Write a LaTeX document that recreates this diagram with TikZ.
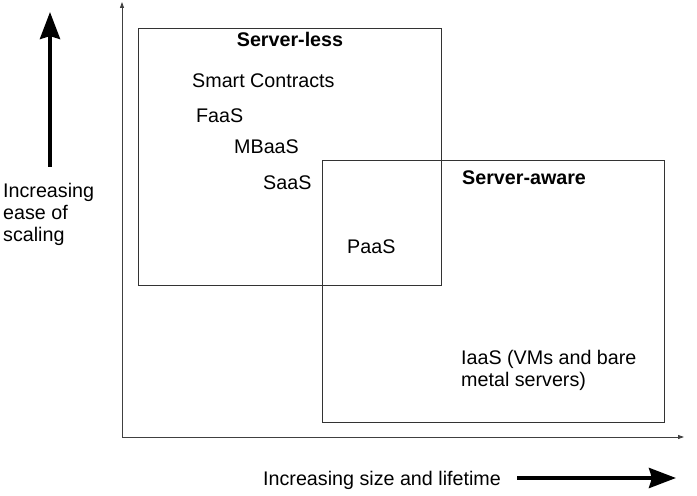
\documentclass[tikz,border=0pt]{standalone}
\usepackage{fontspec}
\setmainfont{Liberation Sans}
\usetikzlibrary{arrows.meta,positioning}

\begin{document}
\begin{tikzpicture}[x=1bp,y=-1bp,
  lbl/.style={anchor=base west,inner sep=0pt,align=left,font=\fontsize{19.7bp}{22bp}\selectfont},
  hdr/.style={lbl,font=\fontsize{19.7bp}{22bp}\selectfont\bfseries},
  axis/.style={line width=0.8bp,black!75,-{Triangle[length=6bp,width=4bp]}},
  bigarrow/.style={line width=4bp,-{Stealth[length=27bp,width=20bp,inset=3bp]}},
  region/.style={draw=black!80,line width=0.9bp}]
  \useasboundingbox (0,0) rectangle (697,496);
  % axes
  \coordinate (origin) at (122,437);
  \coordinate (ytop) at (122,2);
  \coordinate (xend) at (684,437);
  \draw[axis] (origin) -- (ytop);
  \draw[axis] (origin) -- (xend);
  % regions
  \draw[region] (138,28) rectangle (441,285);
  \draw[region] (322,160) rectangle (664,422);
  \node[hdr,anchor=base] (less) at (290,47) {Server-less};
  \node[hdr] (aware) at (462,185) {Server-aware};
  \node[lbl] (smart) at (192,88) {Smart Contracts};
  \node[lbl] (faas) at (196,123) {FaaS};
  \node[lbl] (mbaas) at (234,154) {MBaaS};
  \node[lbl] (saas) at (263,190) {SaaS};
  \node[lbl] (paas) at (347,254) {PaaS};
  % multi-line labels are placed by their last baseline
  \node[lbl] (iaas) at (461,386) {IaaS (VMs and bare\\metal servers)};
  % direction arrows
  \coordinate (upfrom) at (50,167);
  \coordinate (upto) at (50,12);
  \draw[bigarrow] (upfrom) -- (upto);
  \node[lbl] (ease) at (3,242) {Increasing\\ease of\\scaling};
  \node[lbl] (size) at (263,485) {Increasing size and lifetime};
  \coordinate (rightfrom) at (517,478);
  \coordinate (rightto) at (676,478);
  \draw[bigarrow] (rightfrom) -- (rightto);
\end{tikzpicture}
\end{document}
